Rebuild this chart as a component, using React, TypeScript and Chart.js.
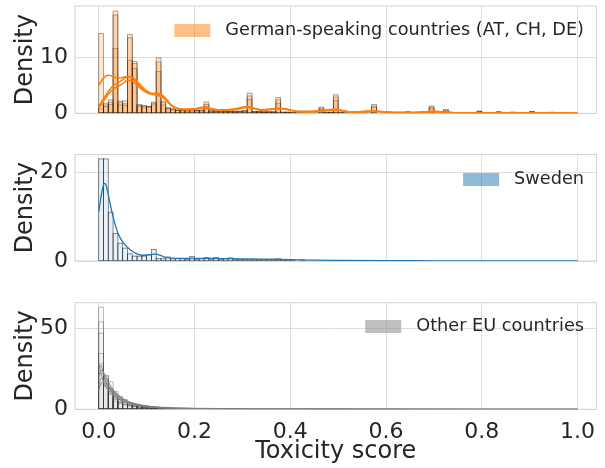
import React, { useEffect, useRef } from "react";
import { Chart, registerables } from "chart.js";
Chart.register(...registerables);

// ---------- data ----------
const BIN_WIDTH = 0.01;
const X_MIN = -0.0495;
const X_MAX = 1.0395;
const X_TICK_VALUES = [0, 0.2, 0.4, 0.6, 0.8, 1.0];

const TOP_Y_TICKS = [0, 10];
const MID_Y_TICKS = [0, 20];
const BOT_Y_TICKS = [0, 50];

// German-speaking countries: histogram densities per 0.01 bin
const AT_BINS = [14.3, 1.8, 2.4, 18.3, 2.2, 2.2, 14.1, 9.3, 1.6, 1.4, 1.2, 2.0, 9.9, 2.2, 1.0, 0.8, 0.6, 0.5, 0.5, 0.6, 0.5, 0.6, 2.0, 0.5, 0.4, 0.4, 0.3, 0.4, 0.3, 0.4, 0.5, 3.6, 0.3, 0.3, 0.2, 0.3, 0.2, 2.8, 0.2, 0.2, 0.1, 0.1, 0.1, 0, 0.1, 0, 1.1, 0.2, 0.2, 3.3, 0.1, 0.1, 0, 0.1, 0, 0, 0.1, 1.6, 0, 0, 0, 0, 0, 0, 0.3, 0, 0, 0, 0, 1.3, 0, 0, 0.7, 0, 0, 0, 0, 0, 0, 0.4, 0, 0, 0, 0.3, 0, 0, 0.2, 0, 0, 0, 0.35, 0, 0, 0, 0.2];
const CH_BINS = [1.5, 1.2, 2.0, 17.6, 1.9, 1.7, 13.5, 8.9, 1.4, 1.3, 1.1, 1.8, 9.2, 1.9, 0.8, 0.7, 0.5, 0.6, 0.4, 0.5, 0.4, 0.5, 1.6, 0.4, 0.3, 0.4, 0.4, 0.3, 0.3, 0.3, 0.4, 3.1, 0.2, 0.3, 0.3, 0.2, 0.2, 2.4, 0.2, 0.1, 0.1, 0.1, 0, 0.1, 0, 0, 0.9, 0.1, 0.2, 2.9, 0.1, 0, 0, 0, 0.1, 0, 0, 1.3, 0, 0, 0, 0, 0, 0, 0.2, 0, 0, 0, 0, 1.1, 0, 0, 0.5, 0, 0, 0, 0, 0, 0, 0.3, 0, 0, 0, 0.2, 0, 0, 0.2, 0, 0, 0, 0.3, 0, 0, 0, 0.1];
const DE_BINS = [0.8, 1.5, 1.6, 11.6, 1.5, 1.4, 9.5, 8.0, 1.2, 1.1, 1.2, 1.5, 7.5, 1.5, 0.9, 0.6, 0.5, 0.4, 0.5, 0.4, 0.5, 0.4, 1.2, 0.3, 0.4, 0.3, 0.3, 0.3, 0.2, 0.3, 0.3, 2.5, 0.3, 0.2, 0.2, 0.2, 0.3, 1.8, 0.1, 0.2, 0.1, 0, 0.1, 0, 0, 0.1, 0.7, 0.1, 0.1, 2.3, 0.1, 0.1, 0, 0, 0, 0.1, 0, 1.1, 0, 0, 0, 0, 0, 0, 0.2, 0, 0, 0, 0, 0.9, 0, 0, 0.4, 0, 0, 0, 0, 0, 0, 0.3, 0, 0, 0, 0.2, 0, 0, 0.1, 0, 0, 0, 0.2, 0, 0, 0, 0.1];

const DACH_KDE_X = [0, 0.01, 0.02, 0.03, 0.04, 0.05, 0.06, 0.07, 0.08, 0.09, 0.1, 0.11, 0.12, 0.13, 0.14, 0.15, 0.16, 0.18, 0.2, 0.22, 0.25, 0.28, 0.31, 0.34, 0.38, 0.42, 0.46, 0.49, 0.53, 0.57, 0.62, 0.66, 0.7, 0.75, 0.8, 0.85, 0.9, 0.95, 1.0];
const AT_KDE = [5.0, 6.3, 6.8, 6.6, 6.3, 6.4, 6.6, 6.3, 5.5, 4.5, 3.8, 3.5, 3.6, 3.4, 2.6, 1.6, 1.0, 0.7, 0.8, 1.1, 0.6, 0.7, 1.2, 0.6, 0.9, 0.3, 0.4, 0.7, 0.2, 0.4, 0.15, 0.15, 0.35, 0.1, 0.1, 0.08, 0.1, 0.05, 0.02];
const CH_KDE = [1.2, 2.6, 3.9, 4.9, 5.4, 6.0, 6.5, 6.4, 5.7, 4.8, 4.0, 3.6, 3.5, 3.3, 2.6, 1.6, 1.0, 0.7, 0.75, 1.0, 0.6, 0.65, 1.1, 0.6, 0.85, 0.3, 0.4, 0.65, 0.2, 0.4, 0.15, 0.15, 0.3, 0.1, 0.1, 0.08, 0.1, 0.05, 0.02];
const DE_KDE = [1.0, 2.2, 3.4, 4.3, 4.8, 5.3, 5.9, 5.8, 5.0, 4.3, 3.7, 3.4, 3.3, 3.0, 2.4, 1.5, 0.9, 0.65, 0.7, 1.0, 0.55, 0.6, 1.05, 0.55, 0.8, 0.3, 0.35, 0.6, 0.2, 0.35, 0.15, 0.12, 0.3, 0.1, 0.08, 0.06, 0.08, 0.04, 0.02];

// Sweden
const SE_BINS = [23.0, 23.0, 11.0, 6.2, 4.0, 2.9, 1.6, 1.1, 1.1, 1.1, 1.4, 2.6, 0.6, 0.5, 0.9, 0.5, 0.6, 0.5, 0.4, 1.0, 0.4, 0.5, 0.8, 0.4, 0.8, 0.4, 0.5, 0.7, 0.4, 0.3, 0.4, 0.3, 0.4, 0.3, 0.3, 0.3, 0.4, 0.5, 0.3, 0.3, 0.2, 0.1, 0.2, 0.1, 0.1, 0.1, 0.1, 0.1, 0.05, 0.1, 0.05, 0.05, 0, 0.05];
const SE_KDE_X = [0, 0.005, 0.01, 0.0125, 0.015, 0.02, 0.025, 0.03, 0.035, 0.04, 0.05, 0.06, 0.07, 0.08, 0.09, 0.1, 0.11, 0.12, 0.13, 0.14, 0.16, 0.18, 0.2, 0.25, 0.3, 0.35, 0.4, 0.45, 0.5, 0.6, 0.7, 0.8, 0.9, 1.0];
const SE_KDE = [11.1, 14.5, 17.2, 17.5, 17.2, 15.0, 12.3, 10.0, 8.0, 6.3, 4.3, 3.1, 2.2, 1.6, 1.3, 1.3, 1.5, 1.55, 1.2, 0.8, 0.6, 0.6, 0.6, 0.55, 0.5, 0.4, 0.3, 0.2, 0.15, 0.08, 0.05, 0.03, 0.02, 0.01];

// Other EU countries
const OE1_BINS = [63, 20.5, 12, 8, 6, 4.2, 3.2, 2.5, 2.0, 1.6, 1.3, 1.1, 0.9, 0.8, 0.7, 0.6, 0.5, 0.5, 0.4, 0.4, 0.3, 0.3, 0.6, 0.3, 0.3, 0.2, 0.2, 0.5, 0.2, 0.2, 0.2, 0.1, 0.1, 0.1, 0.1, 0.1, 0.1, 0.1, 0.1, 0.2, 0.1];
const OE2_BINS = [54, 18, 17, 11, 8, 6, 4.2, 3.2, 2.6, 2.0, 1.6, 1.3, 1.1, 0.9, 0.8, 0.7, 0.6, 0.5, 0.4, 0.4, 0.3, 0.3, 0.3, 0.2, 0.2, 0.2, 0.2, 0.2, 0.1, 0.1, 0.1];
const OE3_BINS = [47, 15, 13, 7, 5, 4, 3, 2.3, 1.8, 1.5, 1.2, 1.0, 0.8, 0.7, 0.6, 0.5, 0.4, 0.3, 0.3, 0.3, 0.2, 0.2, 0.2, 0.1, 0.1];
const OE4_BINS = [34.5, 21, 10, 6, 4, 3, 2.2, 1.8, 1.4, 1.1, 0.9, 0.7, 0.6, 0.5, 0.4, 0.4, 0.3, 0.3, 0.2, 0.2];
const OE5_BINS = [28, 14, 9, 5, 3.5, 2.6, 2.0, 1.5, 1.2, 1.0, 0.8, 0.6, 0.5, 0.4, 0.4, 0.3, 0.3, 0.2];
const OE6_BINS = [22, 19, 11, 7, 4.5, 3.2, 2.4, 1.9, 1.5, 1.2, 1.0, 0.8, 0.6, 0.5, 0.4, 0.3];

const OE_KDE_X = [0, 0.005, 0.01, 0.015, 0.02, 0.03, 0.04, 0.05, 0.06, 0.08, 0.1, 0.12, 0.15, 0.2, 0.25, 0.3, 0.4, 0.5, 0.6, 0.8, 1.0];
const OE1_KDE = [20, 24, 23, 20, 17, 12, 9, 6.5, 5, 3, 2, 1.4, 0.9, 0.5, 0.35, 0.25, 0.15, 0.1, 0.08, 0.05, 0.02];
const OE2_KDE = [25, 27, 22, 17, 14, 10, 7, 5, 4, 2.4, 1.6, 1.1, 0.7, 0.4, 0.3, 0.2, 0.12, 0.08, 0.05, 0.03, 0.01];
const OE3_KDE = [15, 19, 19, 17, 15, 11, 8.5, 6.5, 5, 3.2, 2.2, 1.5, 1.0, 0.6, 0.4, 0.3, 0.2, 0.1, 0.08, 0.05, 0.02];
const OE4_KDE = [12, 16, 17, 16, 14, 11, 8, 6, 4.6, 2.8, 1.8, 1.2, 0.8, 0.5, 0.3, 0.25, 0.15, 0.1, 0.05, 0.03, 0.01];
const OE5_KDE = [28, 22, 17, 14, 12, 9, 7, 5.2, 4, 2.5, 1.6, 1.0, 0.6, 0.4, 0.3, 0.2, 0.1, 0.08, 0.05, 0.03, 0.01];

// ---------- styles ----------
const FONT = "'DejaVu Sans', sans-serif";
const TEXT = "#262626";
const GRID = "#dedede";
const FRAME = "#d2d2d2";

const binPoints = (bins: number[]) => bins.map((v, i) => ({ x: (i + 0.5) * BIN_WIDTH, y: v }));
const linePoints = (xs: number[], ys: number[]) => xs.map((x, i) => ({ x, y: ys[i] }));

const barDs = (bins: number[], fill: string, edge: string) => ({
  type: "bar",
  data: binPoints(bins),
  backgroundColor: fill,
  borderWidth: 0,
  edgeColor: edge,
  barPercentage: 1,
  categoryPercentage: 1,
  grouped: false,
  order: 2,
});
const lineDs = (xs: number[], ys: number[], color: string, width: number) => ({
  type: "line",
  data: linePoints(xs, ys),
  borderColor: color,
  borderWidth: width,
  pointRadius: 0,
  fill: false,
  cubicInterpolationMode: "monotone",
  order: 0,
});

const ORANGE_FILL = "rgba(255,127,14,0.19)";
const ORANGE_EDGE = "rgba(0,0,0,0.4)";
const BLUE_FILL = "rgba(31,119,180,0.1)";
const BLUE_EDGE = "rgba(0,0,0,0.55)";
const GRAY_FILL = "rgba(127,127,127,0.03)";
const GRAY_EDGE = "rgba(50,50,50,0.4)";

const framePlugin = {
  id: "frame",
  beforeDatasetsDraw(chart: any) {
    const { ctx, chartArea } = chart;
    ctx.save();
    ctx.strokeStyle = FRAME;
    ctx.lineWidth = 1;
    ctx.strokeRect(chartArea.left, chartArea.top, chartArea.right - chartArea.left, chartArea.bottom - chartArea.top);
    ctx.restore();
  },
};

// strokes the outline of every histogram bar, using the bar elements laid out by Chart.js
const barEdgePlugin = {
  id: "barEdges",
  afterDatasetDraw(chart: any, args: any) {
    const meta = args.meta;
    if (meta.type !== "bar") return;
    const ds = chart.data.datasets[args.index];
    const { ctx, chartArea } = chart;
    ctx.save();
    ctx.beginPath();
    ctx.rect(chartArea.left, chartArea.top, chartArea.right - chartArea.left, chartArea.bottom - chartArea.top);
    ctx.clip();
    ctx.strokeStyle = ds.edgeColor;
    ctx.lineWidth = 0.8;
    for (const el of meta.data) {
      const { x, y, base, width } = el.getProps(["x", "y", "base", "width"], true);
      const h = base - y;
      if (h <= 0.01) continue;
      ctx.strokeRect(x - width / 2, y, width, h);
    }
    ctx.restore();
  },
};

const legendPlugin = {
  id: "panelLegend",
  afterDraw(chart: any, _args: any, opts: any) {
    const { ctx, chartArea } = chart;
    ctx.save();
    ctx.font = `17.7px ${FONT}`;
    const w = ctx.measureText(opts.text).width;
    const textRight = chartArea.right - 12.5;
    const textLeft = textRight - w;
    const cy = chartArea.top + opts.dy;
    ctx.fillStyle = opts.color;
    ctx.fillRect(textLeft - 15 - 36, cy - 6.5, 36, 13);
    ctx.fillStyle = TEXT;
    ctx.textBaseline = "middle";
    ctx.textAlign = "left";
    ctx.fillText(opts.text, textLeft, cy);
    ctx.restore();
  },
};

type Spec = {
  top: number;
  height: number;
  padTop: number;
  padBottom: number;
  yMax: number;
  yTicks: number[];
  showX: boolean;
  xAxisHeight: number;
  datasets: any[];
  legend: { text: string; color: string; dy: number };
};

function Panel({ spec }: { spec: Spec }) {
  const ref = useRef<HTMLCanvasElement>(null);
  useEffect(() => {
    const chart = new Chart(ref.current as HTMLCanvasElement, {
      type: "bar",
      data: { datasets: spec.datasets as any },
      options: {
        responsive: false,
        animation: false,
        events: [],
        layout: { padding: { top: spec.padTop, bottom: spec.padBottom, left: 0, right: 8.5 } },
        plugins: {
          legend: { display: false },
          tooltip: { enabled: false },
          panelLegend: spec.legend,
        } as any,
        scales: {
          x: {
            type: "linear",
            min: X_MIN,
            max: X_MAX,
            offset: false,
            afterBuildTicks: (s: any) => {
              s.ticks = X_TICK_VALUES.map((v) => ({ value: v }));
            },
            afterFit: (s: any) => {
              s.height = spec.showX ? spec.xAxisHeight : 0;
              s.paddingLeft = 0;
              s.paddingRight = 0;
            },
            grid: { color: GRID, drawTicks: false, offset: false, lineWidth: 1 },
            border: { display: false },
            ticks: {
              display: spec.showX,
              padding: 10,
              color: TEXT,
              font: { family: FONT, size: 22 },
              maxRotation: 0,
              autoSkip: false,
              callback: (v: any) => Number(v).toFixed(1),
            },
            title: {
              display: spec.showX,
              text: "Toxicity score",
              color: TEXT,
              font: { family: FONT, size: 24 },
              padding: { top: 4, bottom: 2 },
            },
          },
          y: {
            type: "linear",
            min: 0,
            max: spec.yMax,
            afterBuildTicks: (s: any) => {
              s.ticks = spec.yTicks.map((v) => ({ value: v }));
            },
            afterFit: (s: any) => {
              s.width = 75;
              s.paddingTop = 0;
              s.paddingBottom = 0;
            },
            grid: { color: GRID, drawTicks: false, lineWidth: 1 },
            border: { display: false },
            ticks: {
              padding: 7,
              color: TEXT,
              font: { family: FONT, size: 22 },
              callback: (v: any) => String(v),
            },
            title: {
              display: true,
              text: "Density",
              color: TEXT,
              font: { family: FONT, size: 24 },
              padding: { top: 11, bottom: 0 },
            },
          },
        } as any,
      },
      plugins: [framePlugin, barEdgePlugin, legendPlugin],
    });
    return () => chart.destroy();
  }, []);
  return (
    <canvas
      ref={ref}
      width={605}
      height={spec.height}
      style={{ position: "absolute", left: 0, top: spec.top, width: 605, height: spec.height }}
    />
  );
}

const SPECS: Spec[] = [
  {
    top: 0,
    height: 125,
    padTop: 6,
    padBottom: 11.7,
    yMax: 19.2,
    yTicks: TOP_Y_TICKS,
    showX: false,
    xAxisHeight: 0,
    datasets: [
      barDs(AT_BINS, ORANGE_FILL, ORANGE_EDGE),
      barDs(CH_BINS, ORANGE_FILL, ORANGE_EDGE),
      barDs(DE_BINS, ORANGE_FILL, ORANGE_EDGE),
      lineDs(DACH_KDE_X, AT_KDE, "#ff7f0e", 1.6),
      lineDs(DACH_KDE_X, CH_KDE, "#ff7f0e", 1.6),
      lineDs(DACH_KDE_X, DE_KDE, "#ff7f0e", 1.6),
    ],
    legend: { text: "German-speaking countries (AT, CH, DE)", color: "rgba(255,127,14,0.5)", dy: 24.5 },
  },
  {
    top: 140,
    height: 135,
    padTop: 14.5,
    padBottom: 14,
    yMax: 24,
    yTicks: MID_Y_TICKS,
    showX: false,
    xAxisHeight: 0,
    datasets: [barDs(SE_BINS, BLUE_FILL, BLUE_EDGE), lineDs(SE_KDE_X, SE_KDE, "#1f77b4", 1.3)],
    legend: { text: "Sweden", color: "rgba(31,119,180,0.5)", dy: 25 },
  },
  {
    top: 285,
    height: 183,
    padTop: 17.7,
    padBottom: 0,
    yMax: 65.8,
    yTicks: BOT_Y_TICKS,
    showX: true,
    xAxisHeight: 58.7,
    datasets: [
      barDs(OE1_BINS, GRAY_FILL, GRAY_EDGE),
      barDs(OE2_BINS, GRAY_FILL, GRAY_EDGE),
      barDs(OE3_BINS, GRAY_FILL, GRAY_EDGE),
      barDs(OE4_BINS, GRAY_FILL, GRAY_EDGE),
      barDs(OE5_BINS, GRAY_FILL, GRAY_EDGE),
      barDs(OE6_BINS, GRAY_FILL, GRAY_EDGE),
      lineDs(OE_KDE_X, OE1_KDE, "rgba(127,127,127,0.8)", 1.1),
      lineDs(OE_KDE_X, OE2_KDE, "rgba(127,127,127,0.8)", 1.1),
      lineDs(OE_KDE_X, OE3_KDE, "rgba(127,127,127,0.8)", 1.1),
      lineDs(OE_KDE_X, OE4_KDE, "rgba(127,127,127,0.8)", 1.1),
      lineDs(OE_KDE_X, OE5_KDE, "rgba(127,127,127,0.8)", 1.1),
    ],
    legend: { text: "Other EU countries", color: "rgba(127,127,127,0.5)", dy: 23.8 },
  },
];

export default function App() {
  useEffect(() => {
    document.body.style.margin = "0";
  }, []);
  return (
    <div style={{ position: "relative", width: 605, height: 468, background: "#ffffff" }}>
      {SPECS.map((s, i) => (
        <Panel key={i} spec={s} />
      ))}
    </div>
  );
}
